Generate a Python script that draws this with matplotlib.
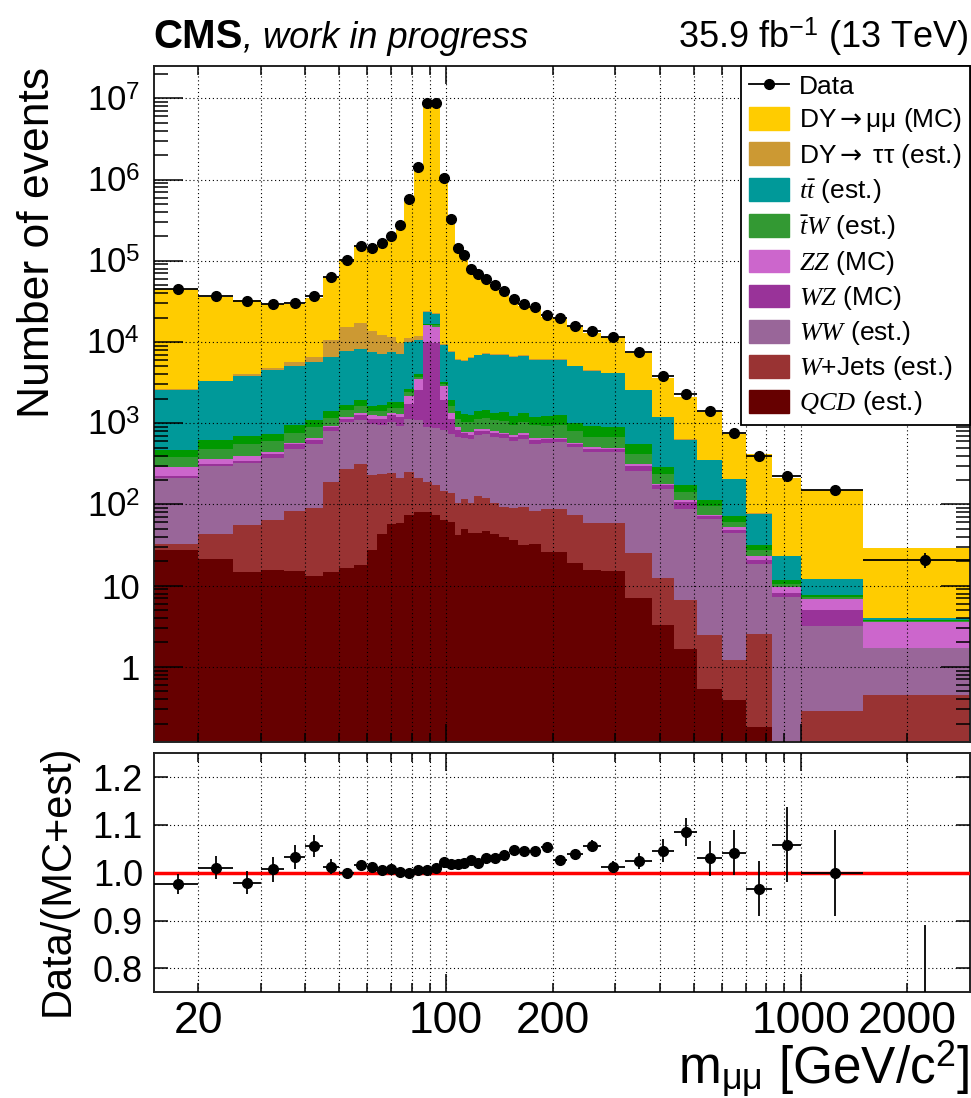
import matplotlib
matplotlib.use('Agg')
import matplotlib.pyplot as plt  # Plot functions
import matplotlib.ticker as mticker
from matplotlib.patches import Patch
from matplotlib.lines import Line2D
import numpy as np  # Numerical toolbox

plt.rcParams['font.family'] = ['Liberation Sans', 'DejaVu Sans']
plt.rcParams['mathtext.fontset'] = 'custom'
plt.rcParams['mathtext.rm'] = 'Liberation Sans'
plt.rcParams['mathtext.it'] = 'Liberation Serif:italic'
plt.rcParams['mathtext.bf'] = 'Liberation Sans:bold'
plt.rcParams['mathtext.sf'] = 'DejaVu Sans'

# Bin edges of m_mumu [GeV]
edges = [15, 20, 25, 30, 35, 40, 45, 50, 55, 60, 64, 68, 72, 76, 81, 86, 91, 96,
         101, 106, 110, 115, 120, 126, 133, 141, 150, 160, 171, 185, 200, 220,
         243, 273, 320, 380, 440, 510, 600, 700, 830, 1000, 1500, 3000]

# Observed events per bin
data = [44400, 36700, 31800, 29200, 30400, 37100, 63600, 103600, 154000, 141600,
        166000, 204600, 277000, 572000, 1430000, 8850000, 8850000, 1050000, 331000,
        143000, 118500, 79800, 69200, 58900, 50700, 41900, 34100, 29300, 27200,
        21400, 19900, 15700, 13500, 11600, 7600, 3810, 2310, 1430, 766, 399, 224,
        152, 21]

# Stack components (bottom to top)
qcd = [27.3, 21.6, 14.8, 15.8, 15.2, 13.2, 14.8, 16.6, 18.2, 27.3, 43, 57, 59, 74,
       80, 80, 74, 65, 61, 42, 50, 44, 45, 47, 43, 40, 36, 32, 33, 26, 26, 19, 15.5,
       15, 7.1, 3.3, 1.64, 0.54, 0.39, 0.18, 0, 0, 0]
wjets = [5.1, 21.4, 41.8, 48, 68, 76.6, 174, 260, 294, 202, 192, 187, 155, 177, 132,
         109, 102, 80, 79, 62, 68, 59, 82, 74, 61, 53, 55, 61, 50, 61, 61, 56, 44, 44,
         18.2, 9.3, 5.0, 1.92, 0.82, 2.33, 0, 0.286, 0.45]
ww = [182, 255, 267, 314, 394, 471, 606, 758, 796, 760, 707, 791, 702, 888, 874, 714,
      697, 673, 605, 567, 540, 531, 583, 608, 572, 572, 513, 554, 478, 490, 500, 435,
      383, 383, 231, 144, 80.7, 63.3, 42.7, 16.2, 7.28, 2.88, 1.27]
wz = [8, 20, 16, 37, 73, 68, 103, 82, 168, 150, 197, 215, 276, 603, 1504, 9069, 8821,
      1132, 372, 147, 90, 90, 95, 80, 75, 65, 70, 60, 55, 55, 45, 40, 45, 45, 42, 15,
      20.1, 5.8, 4.3, 1.9, 0.87, 1.83, 0]
zz = [67, 49, 52, 27, 27, 36, 18, 75, 59, 111, 77, 85, 120, 401, 947, 6030, 5726, 893,
      233, 72, 40, 45, 50, 50, 40, 35, 40, 45, 40, 35, 35, 25, 18, 12, 14, 9, 5.2, 3.5,
      4.7, 2.5, 1.35, 1.82, 1.87]
tbarw = [95, 120, 158, 157, 181, 233, 243, 249, 293, 151, 197, 221, 244, 277, 206, 330,
         580, 167, 278, 249, 256, 256, 286, 294, 307, 296, 244, 272, 282, 266, 277, 218,
         175, 170, 111, 54, 29.9, 20.7, 8.0, 4.2, 1.1, 0.46, 0.1]
tw = [80, 129, 140, 146, 184, 209, 242, 252, 285, 213, 247, 267, 267, 245, 309, 370,
      460, 203, 285, 262, 241, 250, 282, 282, 249, 306, 261, 318, 243, 308, 308, 210,
      240, 226, 127, 54, 33.2, 19.1, 10.7, 4.2, 1.3, 0.36, 0.1]
ttbar = [2126, 2659, 3117, 3730, 4068, 4551, 5119, 5969, 6359, 5900, 5518, 5690, 5217,
         7307, 6618, 6630, 5830, 5870, 5684, 4536, 4496, 5127, 5398, 5737, 5504, 5527,
         5402, 5317, 4778, 4687, 4687, 4021, 3471, 3229, 1989, 903, 453, 235, 132.4,
         45.8, 11.4, 4.62, 0.16]
dytautau = [20, 40, 267, 300, 600, 862, 3940, 7590, 9000, 6100, 4880, 3977, 2760, 1258,
            1050, 470, 410, 250, 183, 163, 168, 138, 171, 182, 171, 171, 187, 187, 163,
            163, 163, 90, 88, 85, 36, 18, 8, 4, 2, 1, 0, 0, 0]
dymumu = [42890, 32985, 28406, 24224, 23820, 28610, 52350, 88450, 134320, 126180,
          153140, 191710, 266800, 561370, 1411280, 8776200, 8737300, 1017670, 317320,
          134400, 110160, 71230, 60770, 49770, 42170, 33390, 25700, 21200, 19930, 14200,
          13280, 10000, 8305, 7230, 4843, 2434, 1492, 1034, 529, 334, 188, 140, 24.75]

# Data / (MC + est) ratio and its uncertainty
ratio = [0.976, 1.010, 0.979, 1.007, 1.033, 1.056, 1.013, 0.999, 1.016, 1.013, 1.005,
         1.007, 1.002, 0.999, 1.005, 1.006, 1.010, 1.022, 1.018, 1.018, 1.021, 1.026,
         1.021, 1.031, 1.031, 1.037, 1.048, 1.045, 1.045, 1.054, 1.027, 1.040, 1.056,
         1.013, 1.025, 1.046, 1.085, 1.030, 1.042, 0.967, 1.059, 0.999, 0.72]
ratio_err = [0.021, 0.024, 0.024, 0.026, 0.026, 0.023, 0.015, 0.010, 0.007, 0.006,
             0.005, 0.005, 0.004, 0.003, 0.002, 0.001, 0.001, 0.002, 0.003, 0.004,
             0.004, 0.005, 0.005, 0.005, 0.005, 0.006, 0.006, 0.007, 0.007, 0.008,
             0.008, 0.009, 0.012, 0.012, 0.017, 0.024, 0.029, 0.037, 0.047, 0.057,
             0.078, 0.090, 0.17]

components = [
    (qcd, '#660000', r'$QCD$ (est.)'),
    (wjets, '#993333', r'$W$+Jets (est.)'),
    (ww, '#996699', r'$WW$ (est.)'),
    (wz, '#993399', r'$WZ$ (MC)'),
    (zz, '#cc66cc', r'$ZZ$ (MC)'),
    (tbarw, '#339933', r'$\bar{t}W$ (est.)'),
    (tw, '#009900', None),
    (ttbar, '#009999', r'$t\bar{t}$ (est.)'),
    (dytautau, '#cc9933', r'DY$\mathsf{\rightarrow}$ ττ (est.)'),
    (dymumu, '#ffcc00', r'DY$\mathsf{\rightarrow}$μμ (MC)'),
]

edges = np.array(edges, dtype=float)
centers = 0.5 * (edges[1:] + edges[:-1])
halfw = 0.5 * (edges[1:] - edges[:-1])
data = np.array(data, dtype=float)

fig = plt.figure(figsize=(9.71, 10.98), dpi=100)
ax1 = fig.add_axes([0.1586, 0.3245, 0.8401, 0.6154])
ax2 = fig.add_axes([0.1586, 0.0963, 0.8401, 0.2177])

# stacked histogram: draw cumulative sums from the top down
cum = np.cumsum([np.array(c[0], dtype=float) for c in components], axis=0)
for i in range(len(components) - 1, -1, -1):
    ax1.stairs(cum[i], edges, baseline=1e-3, fill=True, color=components[i][1],
               lw=0, zorder=2)

ax1.errorbar(centers, data, yerr=np.sqrt(data), xerr=halfw, fmt='o', color='k',
             ms=7, elinewidth=1.3, capsize=0, zorder=5)

for ax in (ax1, ax2):
    ax.set_xscale('log')
    ax.set_xlim(15, 3000)
    ax.xaxis.set_major_locator(mticker.FixedLocator([100, 1000]))
    ax.xaxis.set_minor_locator(mticker.FixedLocator(
        [20, 30, 40, 50, 60, 70, 80, 90, 200, 300, 400, 500, 600, 700, 800, 900, 2000]))
    ax.grid(True, which='both', axis='x', linestyle=(0, (1, 2.5)), color='k', lw=0.8)
    ax.tick_params(which='both', direction='in', top=True, right=True, width=1.1)
    ax.tick_params(axis='x', which='major', length=13)
    ax.tick_params(axis='x', which='minor', length=6.5)
    for s in ax.spines.values():
        s.set_linewidth(1.4)
        s.set_color('#222222')
    ax.set_axisbelow(False)

ax1.set_yscale('log')
ax1.set_ylim(0.12, 2.5e7)
ax1.yaxis.set_major_locator(mticker.FixedLocator([1, 10, 1e2, 1e3, 1e4, 1e5, 1e6, 1e7]))
ax1.yaxis.set_major_formatter(mticker.FixedFormatter(
    ['1', '10', r'$10^{2}$', r'$10^{3}$', r'$10^{4}$', r'$10^{5}$', r'$10^{6}$', r'$10^{7}$']))
ax1.yaxis.set_minor_locator(mticker.LogLocator(base=10, subs=np.arange(2, 10)))
ax1.yaxis.set_minor_formatter(mticker.NullFormatter())
ax1.tick_params(axis='y', which='major', length=21, labelsize=25, pad=10)
ax1.tick_params(axis='y', which='minor', length=10)
ax1.tick_params(axis='x', which='both', labelbottom=False)
ax1.grid(True, which='major', axis='y', linestyle=(0, (1, 2.5)), color='k', lw=0.8)

# ratio panel
ax2.axhline(1.0, color='red', lw=2.5, zorder=3)
ax2.errorbar(centers, ratio, yerr=ratio_err, xerr=halfw, fmt='o', color='k',
             ms=7, elinewidth=1.3, capsize=0, zorder=5)
ax2.set_ylim(0.75, 1.25)
ax2.yaxis.set_major_locator(mticker.FixedLocator([0.8, 0.9, 1.0, 1.1, 1.2]))
ax2.yaxis.set_major_formatter(mticker.FormatStrFormatter('%.1f'))
ax2.yaxis.set_minor_locator(mticker.NullLocator())
ax2.tick_params(axis='y', which='major', length=10, labelsize=26, pad=8)
ax2.grid(True, which='major', axis='y', linestyle=(0, (1, 2.5)), color='k', lw=0.8)
ax2.xaxis.set_major_formatter(mticker.FuncFormatter(lambda v, p: '%d' % v))
ax2.xaxis.set_minor_formatter(mticker.FuncFormatter(
    lambda v, p: '%d' % v if v in (20, 200, 2000) else ''))
ax2.tick_params(axis='x', which='both', labelsize=32, pad=6)

# legend
handles = [Line2D([0], [0], color='k', marker='o', ms=7, lw=1.3)]
labels = ['Data']
for vals, col, lab in components[::-1]:
    if lab is None:
        continue
    handles.append(Patch(facecolor=col, edgecolor=col))
    labels.append(lab)
leg = ax1.legend(handles, labels, loc='upper right', bbox_to_anchor=(1.0, 1.0),
                 borderaxespad=0, frameon=True, fancybox=False, edgecolor='k',
                 framealpha=1, fontsize=19, handlelength=1.55, handleheight=0.95,
                 labelspacing=0.27, borderpad=0.3, handletextpad=0.35)
leg.get_frame().set_linewidth(1.3)
leg.set_zorder(10)

# axis titles
fig.text(0.039, 1 - 67 / 1098, 'Number of events', rotation=90, ha='center', va='top',
         fontsize=32)
fig.text(0.059, 1 - 745 / 1098, 'Data/(MC+est)', rotation=90, ha='center', va='top',
         fontsize=30)
fig.text(0.998, 1 - 1084 / 1098, r'm$_{\mathregular{\mu\mu}}$ [GeV/c$^{2}$]',
         ha='right', va='baseline', fontsize=37)

# header
t1 = fig.text(153 / 971, 1 - 48 / 1098, 'CMS', fontweight='bold', fontsize=29,
              ha='left', va='baseline')
fig.canvas.draw()
bb = t1.get_window_extent()
fig.text(bb.x1 / fig.bbox.width, 1 - 48 / 1098, ', work in progress', style='italic',
         fontsize=26, ha='left', va='baseline')
fig.text(969 / 971, 1 - 48 / 1098, r'35.9 fb$^{-1}$ (13 TeV)', fontsize=26,
         ha='right', va='baseline')

fig.savefig('out.png', dpi=100)
